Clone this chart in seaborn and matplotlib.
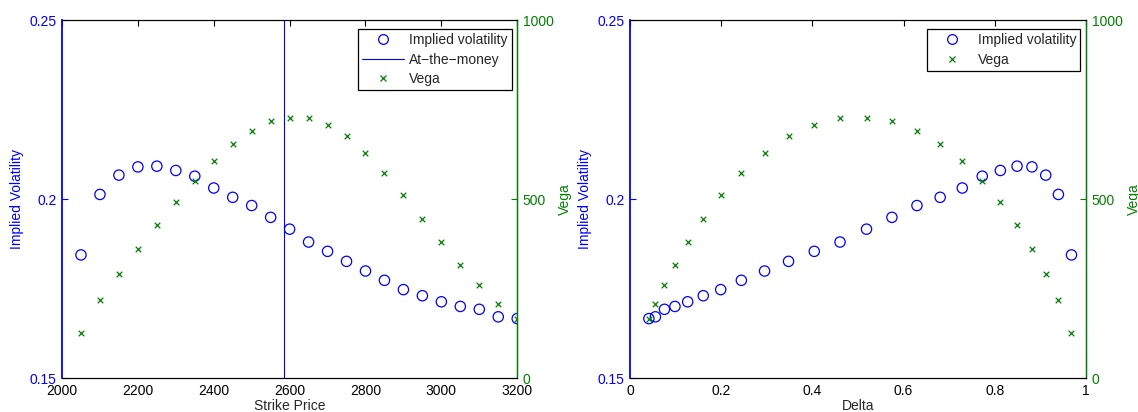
import numpy as np
import pandas as pd
import matplotlib
matplotlib.use("Agg")
import matplotlib.pyplot as plt
import seaborn as sns
from matplotlib.lines import Line2D

# Option smile data
strikes = [2050, 2100, 2150, 2200, 2250, 2300, 2350, 2400, 2450, 2500, 2550, 2600,
           2650, 2700, 2750, 2800, 2850, 2900, 2950, 3000, 3050, 3100, 3150, 3200]
implied_vol = [0.1844, 0.2013, 0.2067, 0.2090, 0.2092, 0.2080, 0.2064, 0.2031,
               0.2005, 0.1982, 0.1949, 0.1916, 0.1880, 0.1854, 0.1826, 0.1799,
               0.1773, 0.1747, 0.1730, 0.1713, 0.1700, 0.1692, 0.1671, 0.1666]
vega = [127, 219, 291, 361, 428, 491, 551, 606, 653, 690, 717, 728,
        726, 708, 675, 630, 573, 511, 445, 379, 316, 260, 207, 166]
delta = [0.9682, 0.9395, 0.9117, 0.8815, 0.8488, 0.8122, 0.7725, 0.7287,
         0.6802, 0.6293, 0.5744, 0.5187, 0.4606, 0.4041, 0.3477, 0.2951,
         0.2442, 0.1989, 0.1607, 0.1265, 0.0986, 0.0756, 0.0557, 0.0414]
atm_strike = 2584

df = pd.DataFrame({"strike": strikes, "iv": implied_vol, "vega": vega, "delta": delta})

sns.set_style("white")
plt.rcParams["font.family"] = ["Liberation Sans", "DejaVu Sans"]
plt.rcParams["font.size"] = 10

BLUE = (0, 0, 1)
GREEN = (0, 0.5, 0)

fig = plt.figure(figsize=(11.38, 4.12), dpi=100)
ax_l = fig.add_axes([0.0545, 0.0825, 0.4, 0.8685])
ax_r = fig.add_axes([0.5536, 0.0825, 0.4007, 0.8685])


def style_axes(ax, ax2, xlim, xticks, xlabel):
    ax.set_xlim(*xlim)
    ax.set_xticks(xticks)
    ax.set_ylim(0.15, 0.25)
    ax.set_yticks([0.15, 0.2, 0.25])
    ax.set_yticklabels(["0.15", "0.2", "0.25"])
    ax2.set_ylim(0, 1000)
    ax2.set_yticks([0, 500, 1000])
    ax.set_xlabel(xlabel, fontsize=10, labelpad=1)
    ax.set_ylabel("Implied Volatility", color=BLUE, fontsize=10, labelpad=4)
    ax2.set_ylabel("Vega", color=GREEN, fontsize=10, labelpad=3)
    ax.tick_params(axis="x", direction="in", top=True, length=4, width=0.8,
                   colors="black", labelsize=10, pad=4)
    ax.tick_params(axis="y", direction="in", length=4, width=0.8,
                   colors=BLUE, labelsize=10, pad=4)
    ax2.tick_params(axis="y", direction="in", length=4, width=0.8,
                    colors=GREEN, labelsize=10, pad=4)
    for a in (ax, ax2):
        for s in a.spines.values():
            s.set_visible(True)
            s.set_linewidth(0.8)
            s.set_color("black")
    ax.spines["left"].set_color(BLUE)
    ax.spines["left"].set_linewidth(1.3)
    ax2.spines["left"].set_visible(False)
    ax2.spines["right"].set_color(GREEN)
    ax2.spines["right"].set_linewidth(1.0)
    ax.grid(False)
    ax2.grid(False)


legend_kw = dict(loc="upper right", bbox_to_anchor=(0.9875, 0.975), fontsize=10,
                 frameon=True, fancybox=False, edgecolor="black", framealpha=1,
                 borderpad=0.3, labelspacing=0.38, handlelength=3.0,
                 handletextpad=0.35, borderaxespad=0)

# Left panel: against strike
ax_l2 = ax_l.twinx()
sns.scatterplot(data=df, x="strike", y="iv", ax=ax_l, marker="o", s=55,
                facecolor="none", edgecolor=BLUE, linewidth=0.9, zorder=3)
ax_l.axvline(atm_strike, color=BLUE, linewidth=0.8)
sns.scatterplot(data=df, x="strike", y="vega", ax=ax_l2, marker="x", s=16,
                color=GREEN, linewidth=0.9, zorder=3)
style_axes(ax_l, ax_l2, (2000, 3200), np.arange(2000, 3201, 200), "Strike Price")

handles_l = [
    Line2D([], [], linestyle="none", marker="o", markersize=7, markerfacecolor="none",
           markeredgecolor=BLUE, markeredgewidth=0.9),
    Line2D([], [], color=BLUE, linewidth=0.8),
    Line2D([], [], linestyle="none", marker="x", markersize=4, color=GREEN,
           markeredgewidth=0.9),
]
leg = ax_l2.legend(handles_l, ["Implied volatility", "At\u2212the\u2212money", "Vega"],
                   **legend_kw)
leg.get_frame().set_linewidth(0.9)

# Right panel: against delta
ax_r2 = ax_r.twinx()
sns.scatterplot(data=df, x="delta", y="iv", ax=ax_r, marker="o", s=55,
                facecolor="none", edgecolor=BLUE, linewidth=0.9, zorder=3)
sns.scatterplot(data=df, x="delta", y="vega", ax=ax_r2, marker="x", s=16,
                color=GREEN, linewidth=0.9, zorder=3)
style_axes(ax_r, ax_r2, (0, 1), [0, 0.2, 0.4, 0.6, 0.8, 1.0], "Delta")
ax_r.set_xticklabels(["0", "0.2", "0.4", "0.6", "0.8", "1"])

handles_r = [handles_l[0], handles_l[2]]
leg2 = ax_r2.legend(handles_r, ["Implied volatility", "Vega"], **legend_kw)
leg2.get_frame().set_linewidth(0.9)

fig.savefig("out.png", dpi=100)
